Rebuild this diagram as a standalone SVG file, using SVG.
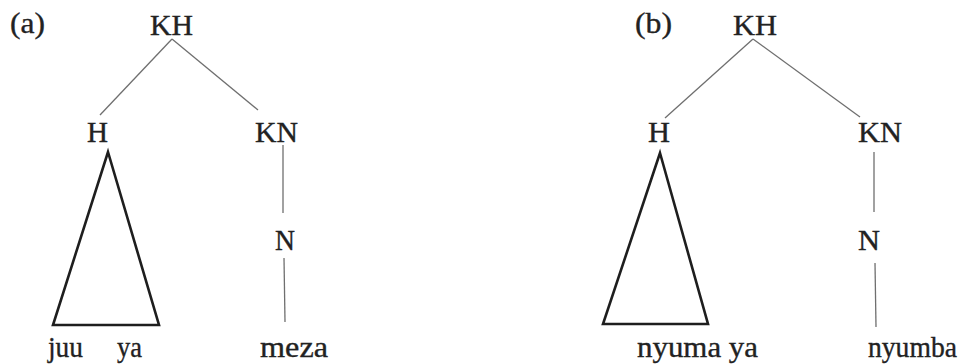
<svg xmlns="http://www.w3.org/2000/svg" width="963" height="364" viewBox="0 0 963 364">
<style>
  text { font-family: "Liberation Serif", "Times New Roman", serif; font-size: 29px; fill: #222; stroke: #222; stroke-width: 0.35; }
  .edge { stroke: #6f6f6f; stroke-width: 1.3; fill: none; }
  .tri { stroke: #1e1e1e; stroke-width: 2.6; fill: none; stroke-linejoin: miter; }
</style>
<rect width="963" height="364" fill="#ffffff"/>
<g id="connectors">
  <line class="edge" x1="172" y1="39" x2="100" y2="115"/>
  <line class="edge" x1="172" y1="39" x2="258" y2="110"/>
  <line class="edge" x1="283" y1="145" x2="283" y2="213"/>
  <line class="edge" x1="284" y1="258" x2="285" y2="322"/>
  <line class="edge" x1="753" y1="39" x2="665" y2="118"/>
  <line class="edge" x1="753" y1="39" x2="860" y2="117"/>
  <line class="edge" x1="874" y1="152" x2="874" y2="212"/>
  <line class="edge" x1="875" y1="263" x2="876" y2="327"/>
</g>
<g id="label-a"><text x="10" y="33" textLength="35" lengthAdjust="spacingAndGlyphs">(a)</text></g>
<g id="a-KH"><text x="150" y="35" textLength="43" lengthAdjust="spacingAndGlyphs">KH</text></g>
<g id="a-H"><text x="87" y="142" textLength="21" lengthAdjust="spacingAndGlyphs">H</text></g>
<g id="a-KN"><text x="255" y="142" textLength="43" lengthAdjust="spacingAndGlyphs">KN</text></g>
<g id="a-N"><text x="275" y="250" textLength="20" lengthAdjust="spacingAndGlyphs">N</text></g>
<g id="a-triangle"><polygon class="tri" points="108,152 159,325 53,325"/></g>
<g id="a-juu-ya"><text x="48" y="357" textLength="35" lengthAdjust="spacingAndGlyphs">juu</text><text x="117" y="357" textLength="25" lengthAdjust="spacingAndGlyphs">ya</text></g>
<g id="a-meza"><text x="260" y="357" textLength="68" lengthAdjust="spacingAndGlyphs">meza</text></g>
<g id="label-b"><text x="635" y="33" textLength="37" lengthAdjust="spacingAndGlyphs">(b)</text></g>
<g id="b-KH"><text x="733" y="35" textLength="44" lengthAdjust="spacingAndGlyphs">KH</text></g>
<g id="b-H"><text x="648" y="142" textLength="22" lengthAdjust="spacingAndGlyphs">H</text></g>
<g id="b-KN"><text x="858" y="142" textLength="44" lengthAdjust="spacingAndGlyphs">KN</text></g>
<g id="b-N"><text x="858" y="250" textLength="22" lengthAdjust="spacingAndGlyphs">N</text></g>
<g id="b-triangle"><polygon class="tri" points="660,153 708,324 603,324"/></g>
<g id="b-nyuma-ya"><text x="637" y="357" textLength="121" lengthAdjust="spacingAndGlyphs">nyuma ya</text></g>
<g id="b-nyumba"><text x="868" y="357" textLength="89" lengthAdjust="spacingAndGlyphs">nyumba</text></g>
</svg>
